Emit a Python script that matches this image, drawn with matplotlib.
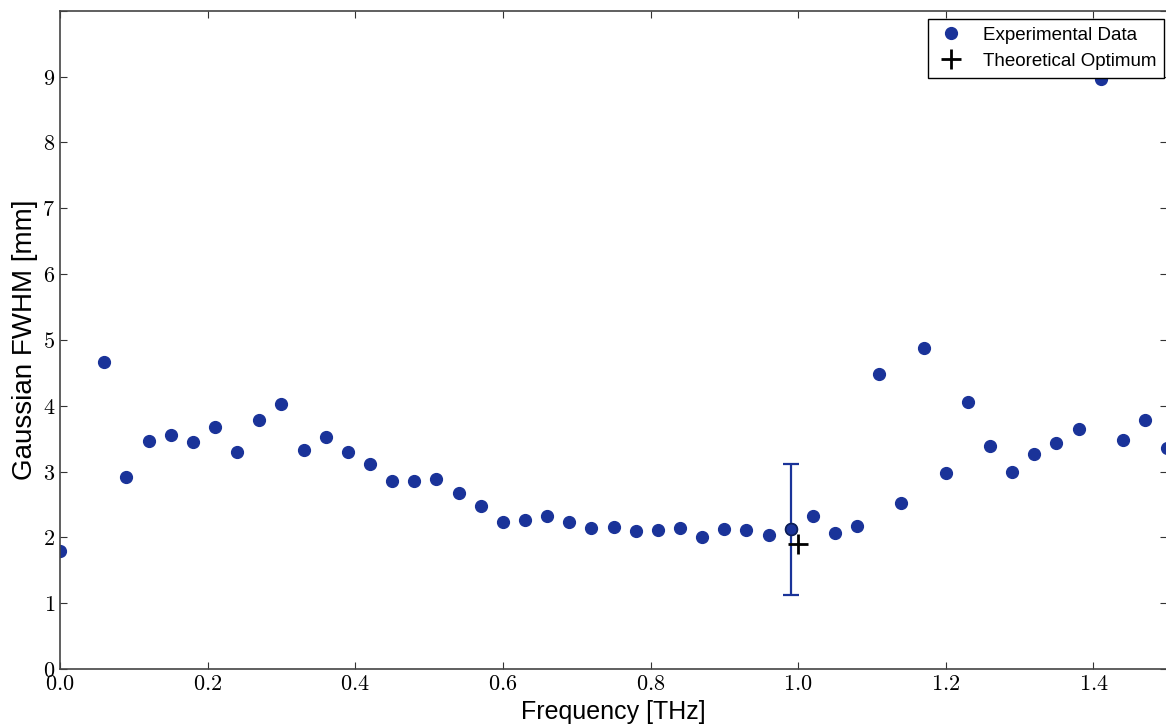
import matplotlib
matplotlib.use("Agg")
import matplotlib.pyplot as plt
from matplotlib.ticker import FuncFormatter, MultipleLocator

plt.rcParams['mathtext.fontset'] = 'cm'
plt.rcParams['font.family'] = ['Liberation Sans', 'DejaVu Sans']

freq = [0.00, 0.06, 0.09, 0.12, 0.15, 0.18, 0.21, 0.24, 0.27, 0.30,
        0.33, 0.36, 0.39, 0.42, 0.45, 0.48, 0.51, 0.54, 0.57, 0.60,
        0.63, 0.66, 0.69, 0.72, 0.75, 0.78, 0.81, 0.84, 0.87, 0.90,
        0.93, 0.96, 0.99, 1.02, 1.05, 1.08, 1.11, 1.14, 1.17, 1.20,
        1.23, 1.26, 1.29, 1.32, 1.35, 1.38, 1.41, 1.44, 1.47, 1.50]
fwhm = [1.80, 4.67, 2.91, 3.47, 3.56, 3.45, 3.68, 3.30, 3.79, 4.02,
        3.33, 3.52, 3.29, 3.11, 2.85, 2.86, 2.89, 2.68, 2.47, 2.23,
        2.26, 2.33, 2.23, 2.14, 2.15, 2.09, 2.11, 2.14, 2.00, 2.12,
        2.11, 2.03, 2.12, 2.33, 2.06, 2.18, 4.48, 2.52, 4.88, 2.98,
        4.05, 3.39, 3.00, 3.26, 3.44, 3.65, 8.97, 3.48, 3.79, 3.36]

err_x = 0.99
err_y = 2.12
err_size = 1.0

opt_x = 1.0
opt_y = 1.9

blue = '#1a3399'

fig = plt.figure(figsize=(11.66, 7.24), dpi=100)
# the right edge of the axes sits just past the figure border, as in the original
ax = fig.add_axes([0.0515, 0.076, 0.9495, 0.909])

ax.plot(freq, fwhm, 'o', color=blue, mec=blue, ms=8.5, label='Experimental Data')
ax.errorbar(err_x, err_y, yerr=err_size, fmt='none', ecolor=blue,
            elinewidth=1.6, capsize=6, capthick=1.6)
ax.plot(err_x, err_y, 'o', color=blue, mec='#0d1f55', mew=1.2, ms=8.5)
ax.plot(opt_x, opt_y, '+', color='black', ms=15, mew=2, label='Theoretical Optimum')

ax.set_xlim(0, 1.5)
ax.set_ylim(0, 10)
ax.xaxis.set_major_locator(MultipleLocator(0.2))
ax.yaxis.set_major_locator(MultipleLocator(1))
ax.xaxis.set_major_formatter(FuncFormatter(lambda v, p: r'$%.1f$' % v))
ax.yaxis.set_major_formatter(FuncFormatter(lambda v, p: '' if v > 9.5 else r'$%d$' % v))
ax.tick_params(direction='in', top=True, right=True, length=5, width=0.8,
               labelsize=16, colors='#333333', labelcolor='black')
for s in ax.spines.values():
    s.set_color('#444444')
    s.set_linewidth(1.2)

ax.set_xlabel('Frequency [THz]', fontsize=18, labelpad=4)
ax.set_ylabel('Gaussian FWHM [mm]', fontsize=20, labelpad=3)

leg = ax.legend(loc='upper right', bbox_to_anchor=(0.9968, 0.9878), borderaxespad=0,
                numpoints=1, fontsize=13.5, fancybox=False, framealpha=1,
                edgecolor='black', handlelength=1.6, handletextpad=0.9,
                borderpad=0.4, labelspacing=0.5)
leg.get_frame().set_linewidth(1.0)

fig.savefig('out.png', dpi=100)
